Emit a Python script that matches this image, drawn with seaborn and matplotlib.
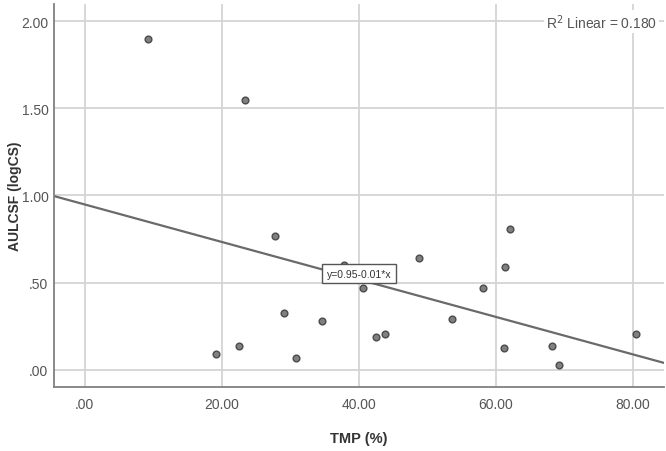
import numpy as np
import pandas as pd
import matplotlib
matplotlib.use("Agg")
import matplotlib.pyplot as plt
import seaborn as sns

# values
tmp = [9.2, 23.4, 27.8, 37.8, 44.7, 48.8, 40.6, 58.1, 61.3, 62.1, 29.1,
       34.6, 42.5, 43.8, 53.6, 19.1, 22.5, 30.8, 61.2, 68.2, 69.2, 80.4]
aulcsf = [1.90, 1.55, 0.765, 0.60, 0.577, 0.642, 0.467, 0.469, 0.59, 0.81, 0.323,
          0.277, 0.185, 0.202, 0.293, 0.09, 0.133, 0.069, 0.122, 0.138, 0.025, 0.204]
x_ticks = [0, 20, 40, 60, 80]
x_tick_labels = [".00", "20.00", "40.00", "60.00", "80.00"]
y_ticks = [0.0, 0.5, 1.0, 1.5, 2.0]
y_tick_labels = [".00", ".50", "1.00", "1.50", "2.00"]
r2_label = "R$^2$ Linear = 0.180"
fit_label = "y=0.95-0.01*x"

df = pd.DataFrame({"TMP": tmp, "AULCSF": aulcsf})

sns.set_style("white")
plt.rcParams["font.family"] = ["Liberation Sans Narrow", "Liberation Sans", "DejaVu Sans"]

fig = plt.figure(figsize=(6.66, 4.52), dpi=100)
ax = fig.add_axes([0.081, 0.1416, 0.916, 0.8474])

ax.set_xlim(-4.5, 84.5)
ax.set_ylim(-0.1, 2.1)

ax.set_xticks(x_ticks)
ax.set_xticklabels(x_tick_labels)
ax.set_yticks(y_ticks)
ax.set_yticklabels(y_tick_labels)
ax.grid(True, color="#d4d4d4", linewidth=1.3)
ax.set_axisbelow(True)

# xlim is set first so the fit line runs across the whole axis
sns.regplot(data=df, x="TMP", y="AULCSF", ax=ax, ci=None, truncate=False,
            scatter_kws=dict(s=24, color="#606060", edgecolor="#333333", linewidths=1.0, zorder=3),
            line_kws=dict(color="#6a6a6a", linewidth=1.6, zorder=2))

ax.text(40.0, 0.551, fit_label, fontsize=7.5, color="#333333",
        ha="center", va="center", zorder=5,
        bbox=dict(boxstyle="square,pad=0.45", facecolor="white", edgecolor="#555555", linewidth=1.0))
ax.text(83.5, 2.0, r2_label, fontsize=10, color="#555555",
        ha="right", va="center", zorder=5,
        bbox=dict(boxstyle="square,pad=0.15", facecolor="white", edgecolor="none"))

for side in ["top", "right"]:
    ax.spines[side].set_visible(False)
for side in ["left", "bottom"]:
    ax.spines[side].set_color("#808080")
    ax.spines[side].set_linewidth(1.3)

ax.tick_params(axis="x", length=0, labelsize=10, labelcolor="#555555", pad=7)
ax.tick_params(axis="y", length=0, labelsize=10, labelcolor="#555555", pad=4)
ax.set_xlabel("TMP (%)", fontsize=10.5, fontweight="bold", color="#333333")
ax.set_ylabel("AULCSF (logCS)", fontsize=10, fontweight="bold", color="#333333",
              family=["Liberation Sans", "DejaVu Sans"])
ax.xaxis.set_label_coords(0.5, -0.115)
ax.yaxis.set_label_coords(-0.053, 0.5)

fig.savefig("out.png", dpi=100)
